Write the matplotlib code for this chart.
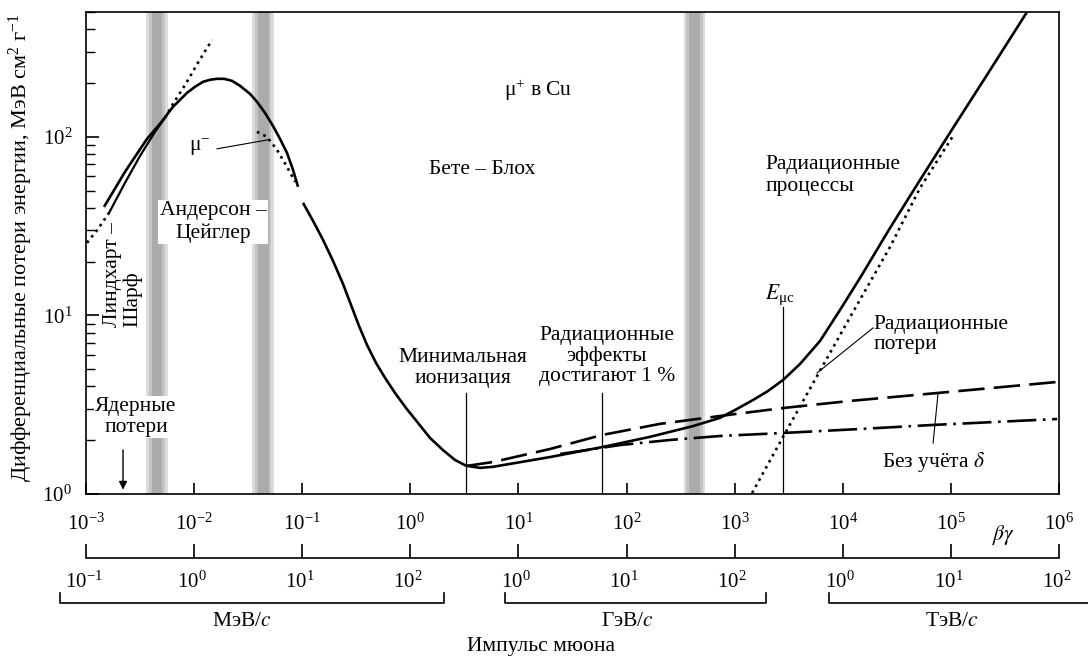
import numpy as np
import matplotlib
matplotlib.use("Agg")
import matplotlib.pyplot as plt
from matplotlib import transforms
from matplotlib.ticker import FixedLocator, FixedFormatter, NullLocator, LogFormatterSciNotation, LogLocator

plt.rcParams['font.family'] = ['Liberation Serif', 'DejaVu Serif']
plt.rcParams['mathtext.fontset'] = 'stix'
plt.rcParams['font.size'] = 15.5

# ====== data ======
MU_MASS = 105.66  # МэВ, for the momentum scales

# Андерсон-Цейглер (low energy part of the total curve)
az_bg = [0.001467, 0.002296, 0.003666, 0.004835, 0.006383, 0.008598, 0.010191, 0.012084,
         0.014027, 0.016283, 0.018901, 0.022412, 0.026573, 0.0329, 0.03819, 0.04529, 0.0537,
         0.0623, 0.07233, 0.08221, 0.09144]
az_val = [40.5, 63.7, 97.4, 118.3, 147.3, 176.3, 190.6, 203.3,
          208.6, 211.3, 211.3, 205.9, 193.1, 174, 157, 136, 115,
          97.4, 81.3, 65.3, 52.5]

# Бете-Блох + radiative, total
total_bg = [0.1017, 0.1259, 0.1557, 0.1927, 0.2384, 0.2827, 0.3352, 0.3976, 0.4816,
            0.5834, 0.7219, 0.9125, 1.178, 1.521, 2.007, 2.591, 3.276, 4.414, 5.821,
            19.6, 59.35, 165, 412, 733, 1009, 1479, 2037, 2803, 4027, 6166, 9441,
            14454, 27390, 51890, 104800, 216200, 507000]
total_val = [42.68, 33.84, 26.49, 20.20, 15.01, 11.45, 8.73, 6.83, 5.42,
             4.47, 3.68, 3.03, 2.50, 2.06, 1.76, 1.55, 1.44, 1.40, 1.42,
             1.61, 1.83, 2.09, 2.40, 2.67, 2.955, 3.36, 3.776, 4.35, 5.35, 7.20, 10.74,
             16.22, 30.92, 57.4, 112.3, 222.5, 501]

# Линдхарт-Шарф
lindhard_bg = [0.001022, 0.001291, 0.001633, 0.002296, 0.003162, 0.004349, 0.005378,
               0.006383, 0.00824, 0.010866, 0.014649]
lindhard_val = [25.5, 30.5, 37.5, 55.3, 78.2, 106.7, 127.7, 153, 195, 260, 349]

# mu- (Barkas)
mu_minus_bg = [0.03819, 0.04724, 0.05844, 0.07233, 0.0859]
mu_minus_val = [106.7, 100, 84.6, 67.9, 56]

# without delta (dashed)
nodelta_bg = [3.276, 5.82, 19.6, 59.35, 204, 733, 2803, 11680, 76140, 960500]
nodelta_val = [1.435, 1.51, 1.787, 2.14, 2.47, 2.735, 3.03, 3.32, 3.68, 4.24]

# ionization with delta (dash-dot)
ion_bg = [24.3, 87.1, 252.6, 733, 2803, 14454, 68440, 960500]
ion_val = [1.675, 1.88, 2.007, 2.113, 2.196, 2.312, 2.436, 2.63]

# radiative losses (dotted)
rad_bg = [1449, 2803, 5784, 12450, 27390, 51890, 104800]
rad_val = [1.013, 2.09, 4.58, 10.46, 24.2, 51.8, 101.3]

band_bg = [0.00454, 0.0436, 426]          # shaded stripes
min_ion_bg = 3.276
rad_1pct_bg = 59.35
e_muc_bg = 2803
nuclear_bg = 0.0022

bg_ticks = [1e-3, 1e-2, 1e-1, 1e0, 1e1, 1e2, 1e3, 1e4, 1e5, 1e6]
mev_ticks = [1e-1, 1e0, 1e1, 1e2]
gev_ticks = [1e0, 1e1, 1e2]
tev_ticks = [1e0, 1e1, 1e2]

# ====== figure ======
W, H = 1088, 657
DEC = 973 / 9  # pixels per decade
fig = plt.figure(figsize=(W / 100, H / 100), dpi=100)
ax = fig.add_axes([86 / W, 1 - 494 / H, 973 / W, 482 / H])
ax.set_xscale('log')
ax.set_yscale('log')
ax.set_xlim(1e-3, 1e6)
ax.set_ylim(1, 500)

for sp in ax.spines.values():
    sp.set_linewidth(1.2)

ax.xaxis.set_major_locator(LogLocator(base=10, numticks=20))
ax.xaxis.set_minor_locator(NullLocator())
ax.tick_params(axis='x', which='major', direction='in', length=8, width=1.2, labelbottom=False)
ax.tick_params(axis='y', which='major', direction='in', length=9, width=1.2, pad=10, labelsize=15)
ax.tick_params(axis='y', which='minor', direction='in', length=6.5, width=1.0)
ax.yaxis.set_minor_formatter(plt.NullFormatter())

ax.set_ylabel('Дифференциальные потери энергии, МэВ см$\\mathregular{^2}$ г$\\mathregular{^{-1}}$',
              fontsize=16)
ax.yaxis.set_label_coords(-0.052, 0.51)

# stripes
for c in band_bg:
    ax.axvspan(c / 10**0.1, c * 10**0.1, color='#dcdcdc', lw=0, zorder=0)
    ax.axvspan(c / 10**0.075, c * 10**0.075, color='#c4c4c4', lw=0, zorder=0)
    ax.axvspan(c / 10**0.05, c * 10**0.05, color='#ababab', lw=0, zorder=0)

# curves
ax.plot(az_bg, az_val, color='k', lw=1.9, solid_capstyle='butt', solid_joinstyle='round')
ax.plot(total_bg, total_val, color='k', lw=1.9, solid_capstyle='butt', solid_joinstyle='round')
ax.plot(lindhard_bg[:3], lindhard_val[:3], color='k', lw=1.9, linestyle=':')
ax.plot(lindhard_bg[2:7], lindhard_val[2:7], color='k', lw=1.6)
ax.plot(lindhard_bg[6:], lindhard_val[6:], color='k', lw=1.9, linestyle=':')
ax.plot(mu_minus_bg, mu_minus_val, color='k', lw=1.9, linestyle=':')
ax.plot(nodelta_bg, nodelta_val, color='k', lw=1.9, dashes=(10, 3.5))
ax.plot(ion_bg, ion_val, color='k', lw=1.9, dashes=(11, 2.5, 1, 2.5))
ax.plot(rad_bg, rad_val, color='k', lw=1.9, linestyle=':')

# marker lines
ax.plot([min_ion_bg, min_ion_bg], [1, 3.68], color='k', lw=0.9)
ax.plot([rad_1pct_bg, rad_1pct_bg], [1, 3.68], color='k', lw=0.9)
ax.plot([e_muc_bg, e_muc_bg], [1, 11.16], color='k', lw=0.9)

# labels
white = dict(facecolor='white', edgecolor='none', pad=1)
ax.text(15.2, 183, '$\\mathregular{μ^{+}}$ в Cu', ha='center', va='center')
ax.text(4.61, 65.3, 'Бете – Блох', ha='center', va='center')
ax.text(0.01496, 33.4, 'Андерсон –\nЦейглер', ha='center', va='center', bbox=white)
ax.text(0.0022, 8.62, 'Линдхарт –\nШарф', rotation=90, ha='center', va='bottom',
        multialignment='left', linespacing=1.05)
ax.text(0.0029, 2.70, 'Ядерные\nпотери', ha='center', va='center', bbox=white, linespacing=1.15)
ax.annotate('', xy=(nuclear_bg, 1.02), xytext=(nuclear_bg, 1.83),
            arrowprops=dict(arrowstyle='-|>', color='k', lw=1.0, mutation_scale=12))
ax.text(3.07, 5.08, 'Минимальная\nионизация', ha='center', va='center', linespacing=1.1)
ax.text(66.0, 5.93, 'Радиационные\nэффекты\nдостигают 1 %', ha='center', va='center', linespacing=1.1)
ax.text(2630, 13.0, '$E_{\\mathregular{μс}}$', ha='center', va='center')
ax.text(19070, 7.83, 'Радиационные\nпотери', ha='left', va='center', linespacing=1.1)
ax.plot([19070, 5784], [8.51, 4.76], color='k', lw=0.8)
ax.text(68440, 1.51, 'Без учёта $\\delta$', ha='center', va='center')
ax.plot([68440, 76140], [1.93, 3.68], color='k', lw=0.8)
ax.text(1911, 60.5, 'Радиационные\nпроцессы', ha='left', va='center', linespacing=1.2)
ax.text(0.01134, 87.9, '$\\mathregular{μ^{-}}$', ha='center', va='center')
ax.plot([0.01629, 0.04827], [85.7, 96.2], color='k', lw=0.8)

# ====== lower scales: beta*gamma and muon momentum ======
# a bit wider than the main axes so that 0.1 МэВ/c (just left of 10^-3) still gets a label
ext = 0.2
ax_bg = fig.add_axes([(86 - ext * DEC) / W, 1 - 558 / H, (973 + 2 * ext * DEC) / W, 0.0001])
ax_bg.set_xscale('log')
ax_bg.set_xlim(10**(-3 - ext), 10**(6 + ext))
ax_bg.set_yticks([])
ax_bg.patch.set_visible(False)
for s in ['left', 'right', 'top']:
    ax_bg.spines[s].set_visible(False)
ax_bg.spines['bottom'].set_linewidth(1.2)
ax_bg.spines['bottom'].set_bounds(1e-3, 1e6)
ax_bg.xaxis.set_major_locator(FixedLocator(bg_ticks))
ax_bg.xaxis.set_major_formatter(LogFormatterSciNotation())
mom_pos = ([p / MU_MASS for p in mev_ticks] + [p * 1e3 / MU_MASS for p in gev_ticks]
           + [p * 1e6 / MU_MASS for p in tev_ticks])
mom_lab = [LogFormatterSciNotation()(v) for v in mev_ticks + gev_ticks + tev_ticks]
ax_bg.xaxis.set_minor_locator(FixedLocator(mom_pos))
ax_bg.xaxis.set_minor_formatter(FixedFormatter(mom_lab))
ax_bg.tick_params(axis='x', which='major', direction='in', length=10, width=1.2,
                  bottom=True, top=False, labelbottom=False, labeltop=True, pad=17, labelsize=15)
ax_bg.tick_params(axis='x', which='minor', length=0, bottom=True, top=False,
                  labelbottom=True, labeltop=False, pad=10, labelsize=15)

trans = transforms.blended_transform_factory(ax.transData, fig.transFigure)
y_line = 1 - 603 / H
y_tip = 1 - 593 / H
brackets = [(0.0607, 216, 1.0, True), (0.794, 206, 1e3, True), (0.79, 200, 1e6, False)]
for lo, hi, unit, right in brackets:
    x0, x1 = lo * unit / MU_MASS, hi * unit / MU_MASS
    xs = [x0, x0, x1, x1] if right else [x0, x0, x1]
    ys = [y_tip, y_line, y_line, y_tip] if right else [y_tip, y_line, y_line]
    ax.plot(xs, ys, color='k', lw=1.2, transform=trans, clip_on=False)

fig.text(2.9 / MU_MASS, 1 - 622 / H, 'МэВ/$c$', transform=trans, ha='center', va='center')
fig.text(10.7e3 / MU_MASS, 1 - 622 / H, 'ГэВ/$c$', transform=trans, ha='center', va='center')
fig.text(10.8e6 / MU_MASS, 1 - 622 / H, 'ТэВ/$c$', transform=trans, ha='center', va='center')
fig.text(16.2, 1 - 647 / H, 'Импульс мюона', transform=trans, ha='center', va='center')
fig.text(3.04e5, 1 - 535 / H, '$\\beta\\gamma$', transform=trans, ha='center', va='center')

fig.savefig('out.png', dpi=100)
